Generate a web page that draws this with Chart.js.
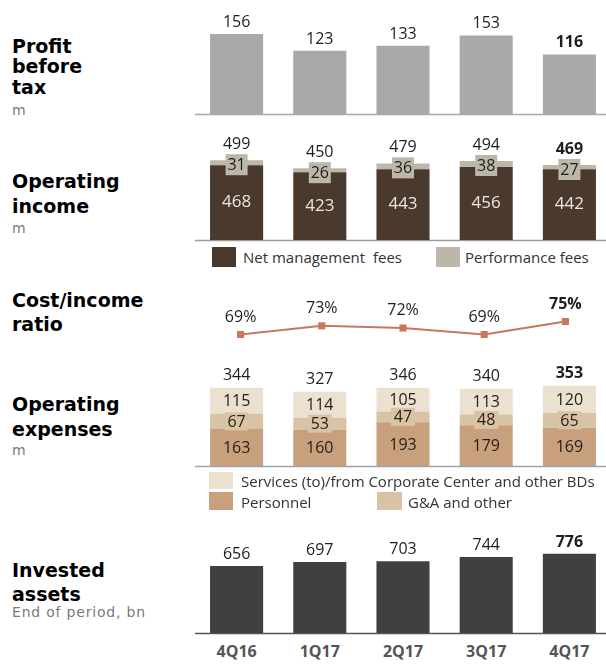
<!DOCTYPE html>
<html><head><meta charset="utf-8">
<script src="https://cdn.jsdelivr.net/npm/chart.js@4.4.0/dist/chart.umd.min.js"></script>
<style>
html,body{margin:0;padding:0;background:#fff;width:606px;height:664px;overflow:hidden;position:relative;}
.t{position:absolute;left:12px;font-family:'DejaVu Sans';font-weight:bold;font-size:19px;color:#000;line-height:22px;white-space:nowrap;}
.s{position:absolute;left:12px;font-family:'DejaVu Sans';font-size:14px;letter-spacing:0.8px;color:#7a7a7a;line-height:16px;white-space:nowrap;}
canvas{position:absolute;left:195px;}
.lg{position:absolute;font-family:'Open Sans';font-size:15px;color:#333;line-height:20px;white-space:nowrap;}
.sq{position:absolute;}
.cat{position:absolute;top:640px;width:84px;text-align:center;font-family:'Open Sans';font-weight:bold;font-size:16px;color:#555;}
</style></head><body>
<div class="t" style="top:35px">Profit</div>
<div class="t" style="top:55px">before</div>
<div class="t" style="top:76px">tax</div>
<div class="s" style="top:102px">m</div>

<div class="t" style="top:170px">Operating</div>
<div class="t" style="top:195px">income</div>
<div class="s" style="top:220px">m</div>

<div class="t" style="top:289px">Cost/income</div>
<div class="t" style="top:313px">ratio</div>

<div class="t" style="top:393px">Operating</div>
<div class="t" style="top:418px">expenses</div>
<div class="s" style="top:442px">m</div>

<div class="t" style="top:559px">Invested</div>
<div class="t" style="top:583px">assets</div>
<div class="s" style="top:604px">End of period, bn</div>

<canvas id="c1" width="416" height="120" style="top:0px"></canvas>
<canvas id="c2" width="416" height="121" style="top:125px"></canvas>
<canvas id="c3" width="416" height="75" style="top:284px"></canvas>
<canvas id="c4" width="416" height="117" style="top:355px"></canvas>
<canvas id="c5" width="416" height="119" style="top:520px"></canvas>

<div class="sq" style="left:212px;top:247px;width:24px;height:20px;background:#4a3a2d"></div>
<div class="lg" style="left:243px;top:247px">Net management&nbsp; fees</div>
<div class="sq" style="left:436px;top:247px;width:24px;height:20px;background:#bdb7a9"></div>
<div class="lg" style="left:465px;top:247px">Performance fees</div>

<div class="sq" style="left:209px;top:472px;width:24px;height:17px;background:#ebe1d0"></div>
<div class="lg" style="left:241px;top:471px">Services (to)/from Corporate Center and other BDs</div>
<div class="sq" style="left:209px;top:492px;width:24px;height:18px;background:#c8a07e"></div>
<div class="lg" style="left:241px;top:492px">Personnel</div>
<div class="sq" style="left:377px;top:492px;width:25px;height:18px;background:#d8c4a4"></div>
<div class="lg" style="left:408px;top:492px">G&amp;A and other</div>

<div id="cats"></div>

<script>
const categories = ['4Q16','1Q17','2Q17','3Q17','4Q17'];
const profitBeforeTax = [156,123,133,153,116];
const netManagementFees = [468,423,443,456,442];
const performanceFees = [31,26,36,38,27];
const operatingIncomeTotal = [499,450,479,494,469];
const costIncomeRatio = [69,73,72,69,75];
const personnel = [163,160,193,179,169];
const gaAndOther = [67,53,47,48,65];
const servicesCorporateCenter = [115,114,105,113,120];
const operatingExpensesTotal = [344,327,346,340,353];
const investedAssets = [656,697,703,744,776];

const FONT = "'Open Sans'";
const BOLD_IDX = 4;
const REG = '16px '+FONT;
function fnt(i){ return (i===BOLD_IDX?'bold ':'')+'16px '+FONT; }

function opts(min,max,pb,lineColor,stacked){
  return {
    responsive:false, animation:false, devicePixelRatio:1,
    layout:{padding:{top:0,bottom:pb,left:0,right:0}},
    plugins:{legend:{display:false},tooltip:{enabled:false},baseline:{color:lineColor}},
    scales:{
      x:{display:false, offset:true, stacked:!!stacked},
      y:{display:false, min:min, max:max, stacked:!!stacked}
    }
  };
}

const baselinePlugin = {
  id:'baseline',
  beforeDatasetsDraw(chart, args, o){
    if(!o.color) return;
    const ctx = chart.ctx, y = chart.chartArea.bottom;
    ctx.save(); ctx.strokeStyle=o.color; ctx.lineWidth=1.5;
    ctx.beginPath(); ctx.moveTo(0,y+0.5); ctx.lineTo(chart.width,y+0.5); ctx.stroke(); ctx.restore();
  }
};
Chart.register(baselinePlugin);

function txt(ctx,s,x,y,font,color,base){
  ctx.save(); ctx.font=font; ctx.fillStyle=color; ctx.textAlign='center'; ctx.textBaseline=base||'alphabetic';
  ctx.fillText(s,x,y); ctx.restore();
}

// Panel 1 - Profit before tax
new Chart(document.getElementById('c1'),{
  type:'bar',
  data:{labels:categories,datasets:[{data:profitBeforeTax,backgroundColor:'#a8a9ab',barPercentage:0.638,categoryPercentage:1}]},
  options:opts(0,222,6,'#a9a9a9'),
  plugins:[{id:'l1',afterDatasetsDraw(chart){
    const m=chart.getDatasetMeta(0);
    m.data.forEach((b,i)=>txt(chart.ctx,String(profitBeforeTax[i]),b.x,b.y-7,fnt(i),'#1e1e1e'));
  }}]
});

// Panel 2 - Operating income
new Chart(document.getElementById('c2'),{
  type:'bar',
  data:{labels:categories,datasets:[
    {label:'Net management fees',data:netManagementFees,backgroundColor:'#4a3a2d',barPercentage:0.638,categoryPercentage:1},
    {label:'Performance fees',data:performanceFees,backgroundColor:'#bdb7a9',barPercentage:0.638,categoryPercentage:1}
  ]},
  options:opts(0,719,6,'#9a9a9a',true),
  plugins:[{id:'l2',afterDatasetsDraw(chart){
    const ctx=chart.ctx, m0=chart.getDatasetMeta(0), m1=chart.getDatasetMeta(1);
    m0.data.forEach((b,i)=>{
      txt(ctx,String(netManagementFees[i]),b.x,(b.y+b.base)/2,'17px '+FONT,'#ece6de','middle');
      const top=m1.data[i].y, cy=top+4;
      ctx.save(); ctx.fillStyle='#bdb7a9'; ctx.fillRect(b.x-11,cy-10,22,21); ctx.restore();
      txt(ctx,String(performanceFees[i]),b.x,cy+1,REG,'#1e1e1e','middle');
      txt(ctx,String(operatingIncomeTotal[i]),b.x,top-11,fnt(i),'#1e1e1e');
    });
  }}]
});

// Panel 3 - Cost/income ratio
new Chart(document.getElementById('c3'),{
  type:'line',
  data:{labels:categories,datasets:[{data:costIncomeRatio,borderColor:'#c9765b',backgroundColor:'#c9765b',borderWidth:2,
    pointStyle:'rect',pointRadius:5,pointBorderWidth:0,tension:0}]},
  options:opts(60,90,0,null),
  plugins:[{id:'l3',afterDatasetsDraw(chart){
    const m=chart.getDatasetMeta(0);
    m.data.forEach((p,i)=>txt(chart.ctx,costIncomeRatio[i]+'%',p.x,p.y-13,fnt(i),'#1e1e1e'));
  }}]
});

// Panel 4 - Operating expenses
new Chart(document.getElementById('c4'),{
  type:'bar',
  data:{labels:categories,datasets:[
    {label:'Personnel',data:personnel,backgroundColor:'#c8a07e',barPercentage:0.638,categoryPercentage:1},
    {label:'G&A and other',data:gaAndOther,backgroundColor:'#d8c4a4',barPercentage:0.638,categoryPercentage:1},
    {label:'Services (to)/from Corporate Center and other BDs',data:servicesCorporateCenter,backgroundColor:'#ebe1d0',barPercentage:0.638,categoryPercentage:1}
  ]},
  options:opts(0,489,6,'#9aa4b0',true),
  plugins:[{id:'l4',afterDatasetsDraw(chart){
    const ctx=chart.ctx;
    const series=[personnel,gaAndOther,servicesCorporateCenter];
    series.forEach((arr,d)=>{
      const m=chart.getDatasetMeta(d);
      m.data.forEach((b,i)=>{
        const cy=(b.y+b.base)/2;
        if(d===1){ ctx.save(); ctx.fillStyle='#d8c4a4'; ctx.fillRect(b.x-12,cy-9,24,18); ctx.restore(); }
        txt(ctx,String(arr[i]),b.x,cy+1,REG,'#2a2018','middle');
      });
    });
    const top=chart.getDatasetMeta(2);
    top.data.forEach((b,i)=>txt(ctx,String(operatingExpensesTotal[i]),b.x,b.y-8,fnt(i),'#1e1e1e'));
  }}]
});

// Panel 5 - Invested assets
new Chart(document.getElementById('c5'),{
  type:'bar',
  data:{labels:categories,datasets:[{data:investedAssets,backgroundColor:'#404040',barPercentage:0.638,categoryPercentage:1}]},
  options:opts(0,1108,6,'#555555'),
  plugins:[{id:'l5',afterDatasetsDraw(chart){
    const m=chart.getDatasetMeta(0);
    m.data.forEach((b,i)=>txt(chart.ctx,String(investedAssets[i]),b.x,b.y-7,fnt(i),'#1e1e1e'));
    const host=document.getElementById('cats'); host.innerHTML='';
    const xs=chart.scales.x;
    categories.forEach((c,i)=>{
      const d=document.createElement('div'); d.className='cat'; d.textContent=c;
      d.style.left=(195+xs.getPixelForValue(i)-42)+'px'; host.appendChild(d);
    });
  }}]
});
</script>
</body></html>
